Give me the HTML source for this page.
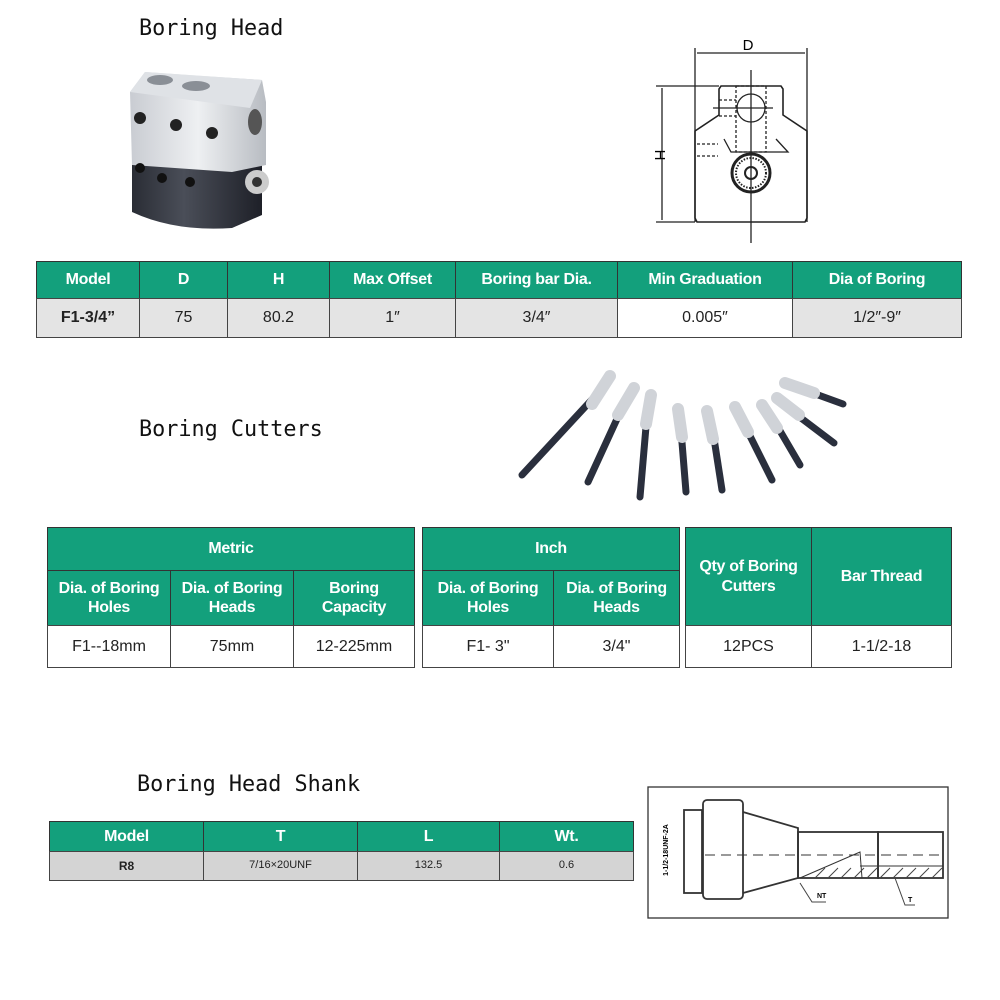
<!DOCTYPE html>
<html><head><meta charset="utf-8"><style>
body{margin:0;background:#fff}
#p{position:relative;width:1000px;height:1000px;overflow:hidden;background:#fff;font-family:"Liberation Sans",sans-serif}
.t{position:absolute;font-family:"DejaVu Sans Mono","Liberation Mono",monospace;font-size:21.8px;color:#111}
.c{position:absolute;box-sizing:border-box;display:flex;align-items:center;justify-content:center;text-align:center;line-height:1.2}
.h{background:#13a07c;color:#fff;font-weight:bold;border:1px solid #333;letter-spacing:-0.3px}
.d{background:#fff;color:#222;border:1px solid #444}
.g{background:#e4e4e4;color:#222;border:1px solid #444}
</style></head><body><div id="p">
<div class="t" style="left:139px;top:16px">Boring Head</div>
<div class="t" style="left:139px;top:417px">Boring Cutters</div>
<div class="t" style="left:137px;top:772px">Boring Head Shank</div>

<svg style="position:absolute;left:0;top:0" width="1000" height="1000">
<defs>
<linearGradient id="sv" x1="0" x2="1"><stop offset="0" stop-color="#c9ccd2"/><stop offset=".5" stop-color="#eef0f2"/><stop offset="1" stop-color="#b8bcc2"/></linearGradient>
<linearGradient id="dk" x1="0" x2="1"><stop offset="0" stop-color="#2a2d35"/><stop offset=".4" stop-color="#4a4e58"/><stop offset="1" stop-color="#1e2028"/></linearGradient>
</defs>
<path d="M132 165 L132 212 Q175 232 232 228 L262 215 L262 160 Z" fill="url(#dk)"/>
<path d="M130 92 L145 72 L262 80 L266 102 L266 165 L232 172 L132 165 Z" fill="url(#sv)"/>
<path d="M145 72 L262 80 L250 108 L130 92 Z" fill="#dfe2e6"/>
<ellipse cx="160" cy="80" rx="13" ry="5" fill="#8a8f96"/><ellipse cx="196" cy="86" rx="14" ry="5" fill="#8a8f96"/>
<ellipse cx="255" cy="122" rx="7" ry="13" fill="#555"/>
<circle cx="140" cy="118" r="6" fill="#222"/><circle cx="176" cy="125" r="6" fill="#222"/><circle cx="212" cy="133" r="6" fill="#222"/>
<circle cx="140" cy="168" r="5" fill="#111"/><circle cx="162" cy="178" r="5" fill="#111"/><circle cx="190" cy="182" r="5" fill="#111"/>
<circle cx="257" cy="182" r="12" fill="#ccc"/><circle cx="257" cy="182" r="5" fill="#333"/>
<g fill="none" stroke="#222" stroke-width="1.3">
<line x1="695" y1="48" x2="695" y2="222"/><line x1="807" y1="48" x2="807" y2="222"/>
<line x1="697" y1="53" x2="805" y2="53"/>
<line x1="656" y1="86" x2="719" y2="86"/><line x1="656" y1="222" x2="695" y2="222"/>
<line x1="662" y1="88" x2="662" y2="220"/>
<path d="M697 222 L805 222 L807 218 L807 131 L783 115 L783 89 L781 86 L721 86 L719 89 L719 115 L695 131 L695 218 Z" stroke-width="1.6"/>
<circle cx="751" cy="108" r="14"/>
<line x1="751" y1="70" x2="751" y2="243"/><line x1="713" y1="108" x2="773" y2="108"/>
<path d="M724 139 L731 152 L788 152 L776 139" />
<g stroke-dasharray="3,2"><rect x="736" y="86" width="30" height="66"/><line x1="719" y1="100" x2="736" y2="100"/><line x1="719" y1="116" x2="736" y2="116"/><line x1="697" y1="144" x2="718" y2="144"/><line x1="697" y1="156" x2="718" y2="156"/></g>
<circle cx="751" cy="173" r="19" stroke-width="3"/><circle cx="751" cy="173" r="15" stroke-dasharray="1.5,1.5" stroke-width="2"/><circle cx="751" cy="173" r="6" stroke-width="2"/>
</g>
<text x="748" y="50" font-family="Liberation Sans" font-size="15" text-anchor="middle">D</text>
<text x="0" y="0" font-family="Liberation Sans" font-size="15" text-anchor="middle" transform="translate(655,155) rotate(90)">H</text>
<g stroke-linecap="round">
<g stroke="#2a2f3d" stroke-width="7">
<line x1="598" y1="393" x2="522" y2="475"/><line x1="622" y1="408" x2="588" y2="482"/><line x1="647" y1="415" x2="640" y2="497"/><line x1="681" y1="430" x2="686" y2="492"/><line x1="713" y1="432" x2="722" y2="490"/><line x1="746" y1="428" x2="772" y2="480"/><line x1="776" y1="424" x2="800" y2="465"/><line x1="797" y1="415" x2="834" y2="443"/><line x1="810" y1="392" x2="843" y2="404"/>
</g>
<g stroke="#d0d3d8" stroke-width="12">
<line x1="610" y1="376" x2="592" y2="404"/><line x1="634" y1="388" x2="618" y2="415"/><line x1="651" y1="395" x2="646" y2="424"/><line x1="678" y1="409" x2="682" y2="437"/><line x1="707" y1="411" x2="713" y2="439"/><line x1="735" y1="407" x2="748" y2="432"/><line x1="762" y1="405" x2="777" y2="428"/><line x1="777" y1="398" x2="799" y2="415"/><line x1="785" y1="383" x2="814" y2="393"/>
</g></g>
<rect x="648" y="787" width="300" height="131" fill="#fff" stroke="#333" stroke-width="1.3"/>
<g fill="none" stroke="#333" stroke-width="1.8">
<rect x="684" y="810" width="18" height="83"/>
<rect x="703" y="800" width="40" height="99" rx="4"/>
<path d="M743 812 L798 828 L798 878 L743 893"/>
<rect x="798" y="832" width="80" height="46"/>
<rect x="878" y="832" width="65" height="46"/>
<line x1="705" y1="855" x2="945" y2="855" stroke-dasharray="10,6" stroke-width="1"/>
<path d="M800 878 L860 852 L862 878 M860 866 L943 866" stroke-width="1"/>
</g>
<g stroke="#444" stroke-width="1"><line x1="815" y1="878" x2="825" y2="868"/><line x1="828" y1="878" x2="838" y2="868"/><line x1="841" y1="878" x2="851" y2="868"/><line x1="854" y1="878" x2="864" y2="868"/><line x1="867" y1="878" x2="877" y2="868"/><line x1="880" y1="878" x2="890" y2="868"/><line x1="893" y1="878" x2="903" y2="868"/><line x1="906" y1="878" x2="916" y2="868"/><line x1="919" y1="878" x2="929" y2="868"/><line x1="932" y1="878" x2="942" y2="868"/>
<path d="M800 883 L812 902 L826 902" fill="none"/><path d="M895 878 L905 905 L915 905" fill="none"/></g>
<text x="0" y="0" font-family="Liberation Sans" font-size="7" font-weight="bold" transform="translate(668,850) rotate(-90)" text-anchor="middle">1-1/2-18UNF-2A</text>
<text x="817" y="898" font-family="Liberation Sans" font-size="7" font-weight="bold">NT</text>
<text x="908" y="902" font-family="Liberation Sans" font-size="7" font-weight="bold">T</text>
</svg>

<div class="c h" style="left:36px;top:261px;width:104px;height:38px;font-size:16px">Model</div>
<div class="c h" style="left:139px;top:261px;width:89px;height:38px;font-size:16px">D</div>
<div class="c h" style="left:227px;top:261px;width:103px;height:38px;font-size:16px">H</div>
<div class="c h" style="left:329px;top:261px;width:127px;height:38px;font-size:16px">Max Offset</div>
<div class="c h" style="left:455px;top:261px;width:163px;height:38px;font-size:16px">Boring bar Dia.</div>
<div class="c h" style="left:617px;top:261px;width:176px;height:38px;font-size:16px">Min Graduation</div>
<div class="c h" style="left:792px;top:261px;width:170px;height:38px;font-size:16px">Dia of Boring</div>
<div class="c g" style="left:36px;top:298px;width:104px;height:40px;font-size:16px;font-weight:bold">F1-3/4”</div>
<div class="c g" style="left:139px;top:298px;width:89px;height:40px;font-size:16px">75</div>
<div class="c g" style="left:227px;top:298px;width:103px;height:40px;font-size:16px">80.2</div>
<div class="c g" style="left:329px;top:298px;width:127px;height:40px;font-size:16px">1″</div>
<div class="c g" style="left:455px;top:298px;width:163px;height:40px;font-size:16px">3/4″</div>
<div class="c d" style="left:617px;top:298px;width:176px;height:40px;font-size:16px">0.005″</div>
<div class="c g" style="left:792px;top:298px;width:170px;height:40px;font-size:16px">1/2″-9″</div>

<div class="c h" style="left:47px;top:527px;width:368px;height:44px;font-size:16px">Metric</div>
<div class="c h" style="left:47px;top:570px;width:124px;height:56px;font-size:16px">Dia. of Boring<br>Holes</div>
<div class="c h" style="left:170px;top:570px;width:124px;height:56px;font-size:16px">Dia. of Boring<br>Heads</div>
<div class="c h" style="left:293px;top:570px;width:122px;height:56px;font-size:16px">Boring<br>Capacity</div>
<div class="c d" style="left:47px;top:625px;width:124px;height:43px;font-size:16px">F1--18mm</div>
<div class="c d" style="left:170px;top:625px;width:124px;height:43px;font-size:16px">75mm</div>
<div class="c d" style="left:293px;top:625px;width:122px;height:43px;font-size:16px">12-225mm</div>
<div class="c h" style="left:422px;top:527px;width:258px;height:44px;font-size:16px">Inch</div>
<div class="c h" style="left:422px;top:570px;width:132px;height:56px;font-size:16px">Dia. of Boring<br>Holes</div>
<div class="c h" style="left:553px;top:570px;width:127px;height:56px;font-size:16px">Dia. of Boring<br>Heads</div>
<div class="c d" style="left:422px;top:625px;width:132px;height:43px;font-size:16px">F1- 3"</div>
<div class="c d" style="left:553px;top:625px;width:127px;height:43px;font-size:16px">3/4"</div>
<div class="c h" style="left:685px;top:527px;width:127px;height:99px;font-size:16px">Qty of Boring<br>Cutters</div>
<div class="c h" style="left:811px;top:527px;width:141px;height:99px;font-size:16px">Bar Thread</div>
<div class="c d" style="left:685px;top:625px;width:127px;height:43px;font-size:16px">12PCS</div>
<div class="c d" style="left:811px;top:625px;width:141px;height:43px;font-size:16px">1-1/2-18</div>

<div class="c h" style="left:49px;top:821px;width:155px;height:31px;font-size:16px">Model</div>
<div class="c h" style="left:203px;top:821px;width:155px;height:31px;font-size:16px">T</div>
<div class="c h" style="left:357px;top:821px;width:143px;height:31px;font-size:16px">L</div>
<div class="c h" style="left:499px;top:821px;width:135px;height:31px;font-size:16px">Wt.</div>
<div class="c g" style="left:49px;top:851px;width:155px;height:30px;font-size:12px;font-weight:bold;background:#d4d4d4">R8</div>
<div class="c g" style="left:203px;top:851px;width:155px;height:30px;font-size:11px;background:#d4d4d4">7/16×20UNF</div>
<div class="c g" style="left:357px;top:851px;width:143px;height:30px;font-size:11px;background:#d4d4d4">132.5</div>
<div class="c g" style="left:499px;top:851px;width:135px;height:30px;font-size:11px;background:#d4d4d4">0.6</div>
</div></body></html>
